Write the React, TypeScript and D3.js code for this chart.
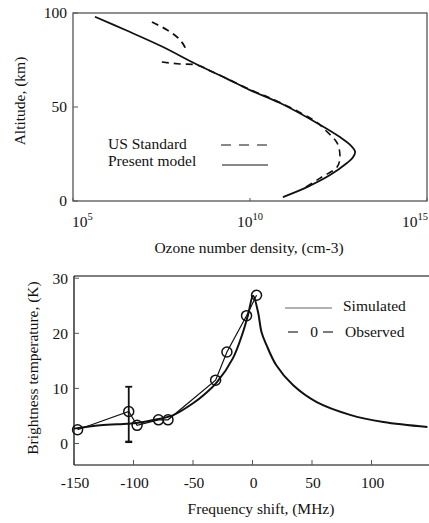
import React from "react";
import * as d3 from "d3";

// ---------- Top panel data (ozone profile) ----------
const presentLogDensity = [5.62, 6.5, 7.5, 8.5, 9.3, 10.0, 10.85, 11.89, 12.54, 12.85, 12.97, 12.9, 12.74, 12.26, 11.61, 10.93];
const presentAltitude = [98, 90.8, 82.3, 72.6, 65.5, 59.0, 52.1, 41.5, 34.0, 29.5, 26.1, 23.0, 20.2, 13.8, 7.4, 2.1];

const usUpperLogDensity = [7.23, 7.66, 7.97, 8.16, 8.19];
const usUpperAltitude = [95.2, 91.0, 86.7, 81.9, 79.3];
const usLowerLogDensity = [7.51, 8.02, 8.5, 8.95, 10.0, 10.85, 11.89, 12.12, 12.46, 12.54, 12.46, 11.98, 11.5];
const usLowerAltitude = [73.9, 72.9, 72.3, 68.6, 59.3, 52.4, 41.8, 37.8, 30.9, 23.4, 18.1, 12.2, 6.5];

const topYTicks = [0, 50, 100];
const topXTickExps = [5, 10, 15];

// ---------- Bottom panel data (brightness temperature) ----------
const simFreq = [-150, -128, -105, -94.5, -80, -67, -50, -40, -30, -16.4, -8, -3.8, 0.5, 4.6, 7.6, 11.7, 20, 34, 54, 82, 110, 147];
const simTb = [2.7, 3.3, 3.6, 3.8, 4.4, 5.1, 7.3, 9.0, 11.1, 15.5, 20.2, 23.3, 26.8, 23.9, 20.2, 17.9, 14.2, 10.6, 7.5, 5.2, 3.9, 3.0];

const obsFreq = [-147, -104, -97, -79, -71, -31, -21.5, -5, 3.4];
const obsTb = [2.5, 5.8, 3.3, 4.3, 4.3, 11.5, 16.6, 23.2, 26.9];
const errFreq = -104;
const errLow = 0.3;
const errHigh = 10.3;

const botXTicks = [-150, -100, -50, 0, 50, 100];
const botYTicks = [0, 10, 20, 30];

const FONT = "Liberation Serif, Times New Roman, Times, DejaVu Serif, serif";

export default function App() {
  // top scales
  const tx = d3.scaleLog().domain([1e5, 1e15]).range([73, 427]);
  const ty = d3.scaleLinear().domain([0, 100]).range([201, 13]);
  // bottom scales
  const bx = d3.scaleLinear().domain([-150, 150]).range([74, 431]);
  const by = d3.scaleLinear().domain([-3.9, 30.4]).range([465, 276]);

  const topLine = d3
    .line<[number, number]>()
    .x((d) => tx(Math.pow(10, d[0])))
    .y((d) => ty(d[1]))
    .curve(d3.curveCatmullRom.alpha(0.5));

  const botLine = d3
    .line<[number, number]>()
    .x((d) => bx(d[0]))
    .y((d) => by(d[1]))
    .curve(d3.curveCatmullRom.alpha(0.5));
  const botPoly = d3
    .line<[number, number]>()
    .x((d) => bx(d[0]))
    .y((d) => by(d[1]));

  const zip = (a: number[], b: number[]) => a.map((v, i) => [v, b[i]] as [number, number]);

  const present = topLine(zip(presentLogDensity, presentAltitude)) || "";
  const usUpper = topLine(zip(usUpperLogDensity, usUpperAltitude)) || "";
  const usLower = topLine(zip(usLowerLogDensity, usLowerAltitude)) || "";
  const sim = botLine(zip(simFreq, simTb)) || "";
  const obs = botPoly(zip(obsFreq, obsTb)) || "";

  const axisColor = "#555";
  const ink = "#111";

  const topLeft = tx.range()[0];
  const topRight = tx.range()[1];
  const botLeft = bx(-150);

  const xLabelX = (i: number, e: number) =>
    i === 0 ? tx(Math.pow(10, e)) - 1 : i === topXTickExps.length - 1 ? 428 : tx(Math.pow(10, e));
  const xLabelAnchor = (i: number) => (i === 0 ? "start" : i === topXTickExps.length - 1 ? "end" : "middle");

  return (
    <svg
      width={429}
      height={523}
      style={{ position: "absolute", left: 0, top: 0, background: "#fff", fontFamily: FONT, fontSize: 15.5 }}
    >
      <rect x={0} y={0} width={429} height={523} fill="#fff" />

      {/* ===== TOP PANEL ===== */}
      <rect
        x={topLeft}
        y={ty(100)}
        width={topRight - topLeft}
        height={ty(0) - ty(100)}
        fill="none"
        stroke={axisColor}
        strokeWidth={1.3}
      />
      {topYTicks.map((t) => (
        <g key={"ty" + t}>
          <line x1={topLeft} x2={topLeft + 5} y1={ty(t)} y2={ty(t)} stroke={axisColor} strokeWidth={1} />
          <text x={67} y={ty(t)} dy="0.35em" textAnchor="end" fill={ink}>
            {t}
          </text>
        </g>
      ))}
      {topXTickExps.map((e, i) => (
        <g key={"tx" + e}>
          <line x1={tx(Math.pow(10, e))} x2={tx(Math.pow(10, e))} y1={ty(0)} y2={ty(0) - 3} stroke={axisColor} strokeWidth={1} />
          <text x={xLabelX(i, e)} y={227} textAnchor={xLabelAnchor(i)} fill={ink}>
            10
            <tspan fontSize={10.5} dy={-7}>
              {e}
            </tspan>
          </text>
        </g>
      ))}
      <text x={249} y={253} textAnchor="middle" fill={ink}>
        Ozone number density, (cm-3)
      </text>
      <text transform={`translate(25,101) rotate(-90)`} textAnchor="middle" fill={ink}>
        Altitude, (km)
      </text>

      <path d={present} fill="none" stroke={ink} strokeWidth={1.8} strokeLinejoin="round" />
      <path d={usUpper} fill="none" stroke={ink} strokeWidth={1.8} strokeDasharray="7,5" />
      <path d={usLower} fill="none" stroke={ink} strokeWidth={1.6} strokeDasharray="7,5" />

      {/* legend */}
      <text x={108} y={149} fill={ink}>US Standard</text>
      <text x={108} y={166} fill={ink}>Present model</text>
      <line x1={221} x2={268} y1={145} y2={145} stroke={ink} strokeWidth={1} strokeDasharray="10,8" />
      <line x1={222} x2={268} y1={165} y2={165} stroke={ink} strokeWidth={1} />

      {/* ===== BOTTOM PANEL ===== */}
      <line x1={botLeft} x2={429} y1={by(30.4)} y2={by(30.4)} stroke={axisColor} strokeWidth={1.3} />
      <line x1={botLeft} x2={429} y1={by(-3.9)} y2={by(-3.9)} stroke={axisColor} strokeWidth={1.3} />
      <line x1={botLeft} x2={botLeft} y1={by(30.4)} y2={by(-3.9)} stroke={ink} strokeWidth={1.3} />

      {botYTicks.map((t) => (
        <g key={"by" + t}>
          <line x1={botLeft} x2={botLeft + 5} y1={by(t)} y2={by(t)} stroke={axisColor} strokeWidth={1} />
          <text x={68} y={by(t)} dy="0.35em" textAnchor="end" fill={ink}>
            {t}
          </text>
        </g>
      ))}
      {botXTicks.map((t) => (
        <g key={"bx" + t}>
          <line x1={bx(t)} x2={bx(t)} y1={by(-3.9)} y2={by(-3.9) - 5} stroke={axisColor} strokeWidth={1} />
          <text x={bx(t) + 1} y={488} textAnchor="middle" fill={ink}>
            {t}
          </text>
        </g>
      ))}
      <text x={261} y={514} textAnchor="middle" fill={ink}>
        Frequency shift, (MHz)
      </text>
      <text transform={`translate(38,368) rotate(-90)`} textAnchor="middle" fill={ink}>
        Brightness temperature, (K)
      </text>

      <path d={sim} fill="none" stroke={ink} strokeWidth={2} strokeLinejoin="round" />
      <path d={obs} fill="none" stroke={ink} strokeWidth={1.2} />
      {/* error bar */}
      <line x1={bx(errFreq)} x2={bx(errFreq)} y1={by(errLow)} y2={by(errHigh)} stroke={ink} strokeWidth={1.8} />
      <line x1={bx(errFreq) - 3.5} x2={bx(errFreq) + 3.5} y1={by(errHigh)} y2={by(errHigh)} stroke={ink} strokeWidth={1.8} />
      <line x1={bx(errFreq) - 3.5} x2={bx(errFreq) + 3.5} y1={by(errLow)} y2={by(errLow)} stroke={ink} strokeWidth={2.4} />
      {obsFreq.map((f, i) => (
        <circle key={"o" + i} cx={bx(f)} cy={by(obsTb[i])} r={5} fill="none" stroke={ink} strokeWidth={1.5} />
      ))}

      {/* legend */}
      <line x1={285} x2={332} y1={308} y2={308} stroke="#666" strokeWidth={1.2} />
      <text x={343} y={311} fill={ink}>Simulated</text>
      <line x1={288} x2={298} y1={332} y2={332} stroke={ink} strokeWidth={1.1} />
      <text x={314} y={337} textAnchor="middle" fill={ink}>0</text>
      <line x1={323} x2={333} y1={332} y2={332} stroke={ink} strokeWidth={1.1} />
      <text x={345} y={337} fill={ink}>Observed</text>
    </svg>
  );
}
